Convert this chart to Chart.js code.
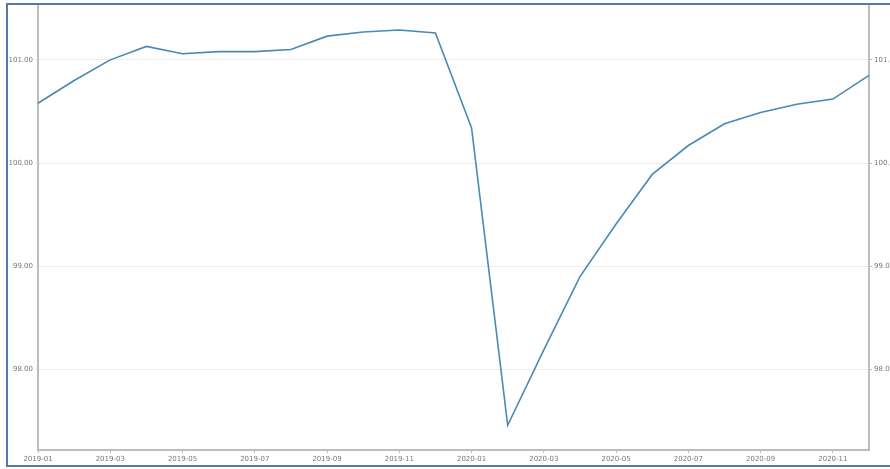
<!DOCTYPE html>
<html>
<head>
<meta charset="utf-8">
<script src="https://cdn.jsdelivr.net/npm/chart.js@4.4.1/dist/chart.umd.min.js"></script>
<style>
  html, body { margin: 0; padding: 0; background: #fff; overflow: hidden; }
  #wrap { position: absolute; left: 0; top: 0; width: 890px; height: 469px; }
  #frame { position: absolute; left: 6px; top: 3px; width: 900px; height: 464px;
           border: 2px solid #5479aa; border-right: none; box-sizing: border-box; pointer-events: none; }
</style>
</head>
<body>
<div id="wrap"><canvas id="c"></canvas></div>
<div id="frame"></div>
<script>
const months = ["2019-01","2019-02","2019-03","2019-04","2019-05","2019-06","2019-07","2019-08","2019-09","2019-10","2019-11","2019-12",
                "2020-01","2020-02","2020-03","2020-04","2020-05","2020-06","2020-07","2020-08","2020-09","2020-10","2020-11","2020-12"];
const values = [100.58,100.80,101.00,101.13,101.06,101.08,101.08,101.10,101.23,101.27,101.29,101.26,
                100.34,97.46,98.19,98.90,99.41,99.89,100.17,100.38,100.49,100.57,100.62,100.85];
const yTicks = [98, 99, 100, 101];
const yMin = 97.22, yMax = 101.52;

const tickFont = { family: "DejaVu Sans", size: 7 };
const tickColor = "#777";
const axisColor = "#bdbdbd";

new Chart(document.getElementById("c"), {
  type: "line",
  data: {
    labels: months,
    datasets: [{
      data: values,
      borderColor: "#4a89b4",
      borderWidth: 1.6,
      pointRadius: 0,
      tension: 0,
      fill: false,
      yAxisID: "y"
    }]
  },
  options: {
    responsive: true,
    maintainAspectRatio: false,
    animation: false,
    layout: { padding: { top: 6, left: 0, right: 0, bottom: 0 } },
    plugins: { legend: { display: false }, tooltip: { enabled: false } },
    scales: {
      x: {
        type: "category",
        offset: false,
        grid: { display: true, drawOnChartArea: false, drawTicks: true, tickLength: 3,
                color: function(ctx) { return (ctx.index % 2 === 0) ? axisColor : "rgba(0,0,0,0)"; } },
        border: { display: true, color: axisColor, width: 2 },
        ticks: {
          autoSkip: false, maxRotation: 0, minRotation: 0, padding: 2,
          font: tickFont, color: tickColor,
          callback: function(v, i) { return i % 2 === 0 ? months[i] : ""; }
        },
        afterFit: function(s) { s.height = 19; }
      },
      y: {
        position: "left",
        min: yMin, max: yMax,
        afterBuildTicks: function(s) { s.ticks = yTicks.map(v => ({ value: v })); },
        grid: { color: "#ececec", lineWidth: 1, drawTicks: true, tickLength: 3 },
        border: { display: true, color: axisColor, width: 2 },
        ticks: { font: tickFont, color: tickColor, padding: 2,
                 callback: function(v) { return Number(v).toFixed(2); } },
        afterFit: function(s) { s.width = 38; }
      },
      y2: {
        position: "right",
        min: yMin, max: yMax,
        afterBuildTicks: function(s) { s.ticks = yTicks.map(v => ({ value: v })); },
        grid: { drawOnChartArea: false, drawTicks: true, tickLength: 3, color: axisColor },
        border: { display: true, color: axisColor, width: 2 },
        ticks: { font: tickFont, color: tickColor, padding: 2,
                 callback: function(v) { return Number(v).toFixed(2); } },
        afterFit: function(s) { s.width = 21; }
      }
    }
  }
});
</script>
</body>
</html>
